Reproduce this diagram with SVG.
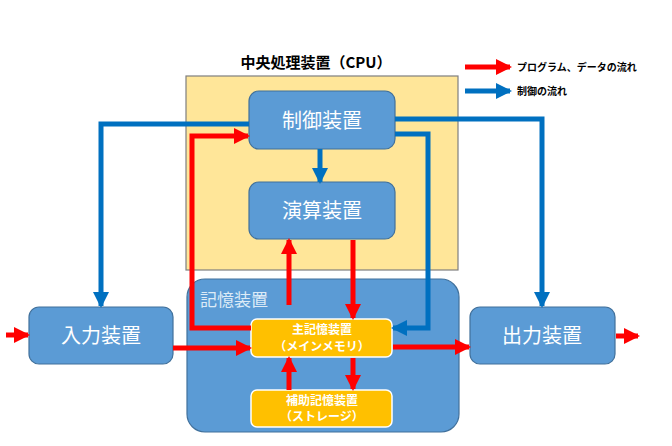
<svg xmlns="http://www.w3.org/2000/svg" width="672" height="446" viewBox="0 0 672 446">
<style>
.b{fill:#5B9BD5;stroke:#41719C;stroke-width:1.2}
.y{fill:#FFC000;stroke:#fff;stroke-width:1.5}
.t{font-family:"Noto Sans CJK JP",sans-serif;fill:#fff;text-anchor:middle}
.r{fill:none;stroke:#FF0000;stroke-width:5}
.u{fill:none;stroke:#0070C0;stroke-width:5}
.k{font-family:"Noto Sans CJK JP",sans-serif;font-weight:bold;fill:#000}
</style>
<defs>
<marker id="ar" markerUnits="userSpaceOnUse" viewBox="0 0 16 16" markerWidth="16" markerHeight="16" refX="14" refY="8" orient="auto"><path d="M0,0L16,8L0,16z" fill="#FF0000"/></marker>
<marker id="au" markerUnits="userSpaceOnUse" viewBox="0 0 16 16" markerWidth="16" markerHeight="16" refX="14" refY="8" orient="auto"><path d="M0,0L16,8L0,16z" fill="#0070C0"/></marker>
</defs>
<text class="k" x="316" y="68" font-size="15" text-anchor="middle">中央処理装置（CPU）</text>
<g id="cpu"><rect x="186" y="76" width="272" height="194" fill="#FFE699" stroke="#7F7F7F" stroke-width="1.2"/></g>
<g id="memory"><rect class="b" x="187" y="279" width="272" height="153" rx="18"/><text x="200" y="306" font-family="Noto Sans CJK JP,sans-serif" font-size="17" fill="#DDEBF7">記憶装置</text></g>
<g id="control"><rect class="b" x="249" y="91" width="146" height="58" rx="10"/><text class="t" x="322" y="128" font-size="20">制御装置</text></g>
<g id="alu"><rect class="b" x="249" y="182" width="146" height="57" rx="10"/><text class="t" x="322" y="218" font-size="20">演算装置</text></g>
<g id="input"><rect class="b" x="29" y="307" width="144" height="57" rx="10"/><text class="t" x="101" y="343" font-size="20">入力装置</text></g>
<g id="output"><rect class="b" x="470" y="307" width="145" height="57" rx="10"/><text class="t" x="542" y="343" font-size="20">出力装置</text></g>
<g id="main"><rect class="y" x="251" y="319" width="141" height="38" rx="6"/><text class="t" x="322" y="334" font-size="12" font-weight="bold">主記憶装置</text><text class="t" x="322" y="351" font-size="12" font-weight="bold">（メインメモリ）</text></g>
<g id="storage"><rect class="y" x="251" y="390" width="141" height="37" rx="6"/><text class="t" x="322" y="405" font-size="12" font-weight="bold">補助記憶装置</text><text class="t" x="322" y="421" font-size="12" font-weight="bold">（ストレージ）</text></g>
<g id="connectors">
<path class="r" d="M6,335H28" marker-end="url(#ar)"/>
<path class="r" d="M616,336H638" marker-end="url(#ar)"/>
<path class="r" d="M173,348H250" marker-end="url(#ar)"/>
<path class="r" d="M393,347H469" marker-end="url(#ar)"/>
<path class="r" d="M251,328H192V136H248" marker-end="url(#ar)"/>
<path class="r" d="M289,305V240" marker-end="url(#ar)"/>
<path class="r" d="M353,240V318" marker-end="url(#ar)"/>
<path class="r" d="M289,390V358" marker-end="url(#ar)"/>
<path class="r" d="M353,358V389" marker-end="url(#ar)"/>
<path class="u" d="M249,124H101V306" marker-end="url(#au)"/>
<path class="u" d="M395,119H542V306" marker-end="url(#au)"/>
<path class="u" d="M320,149V182" marker-end="url(#au)"/>
<path class="u" d="M395,134H428V328H393" marker-end="url(#au)"/>
<path class="r" d="M465,67H510" marker-end="url(#ar)"/>
<path class="u" d="M465,91H510" marker-end="url(#au)"/>
</g>
<text class="k" x="517" y="71" font-size="10">プログラム、データの流れ</text>
<text class="k" x="517" y="95" font-size="10">制御の流れ</text>
</svg>
